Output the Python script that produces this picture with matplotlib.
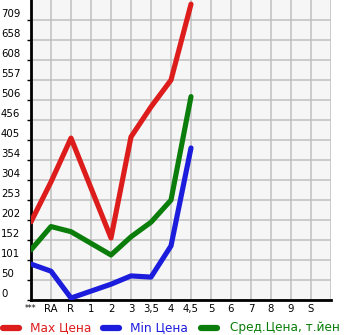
import matplotlib.pyplot as plt
from matplotlib.lines import Line2D
from matplotlib.transforms import blended_transform_factory

# категории по оси X
categories = ["***", "RA", "R", "1", "2", "3", "3,5", "4", "4,5", "5", "6", "7", "8", "9", "S"]
# точки с данными (у "1" данных нет)
data_cats = ["***", "RA", "R", "2", "3", "3,5", "4", "4,5"]
max_price = [198, 299, 410, 157, 413, 489, 557, 749]
min_price = [91, 73, 5, 40, 61, 58, 137, 385]
avg_price = [127, 186, 173, 114, 160, 197, 253, 515]
y_ticks = [0, 50, 101, 152, 202, 253, 304, 354, 405, 456, 506, 557, 608, 658, 709]

red = "#dd1c1c"
blue = "#1c1cdd"
green = "#0a7d0a"

W, H = 345, 335
fig = plt.figure(figsize=(W / 100, H / 100), dpi=100)
ax = fig.add_axes([31 / W, 1 - 300 / H, 300 / W, 300 / H])
ax.set_facecolor("#f6f6f6")

x = [categories.index(c) for c in data_cats]
for vals, col in [(max_price, red), (min_price, blue), (avg_price, green)]:
    ax.plot(x, vals, color=col, lw=3.7, solid_capstyle="round", solid_joinstyle="round", zorder=3)

step = 709 / 14
ax.set_xlim(0, 15)
ax.set_ylim(0, step * 15)
ax.set_xticks(range(16))
ax.set_yticks(y_ticks)
ax.grid(True, color="#c0c0c0", lw=1.1)
ax.set_axisbelow(True)
ax.set_xticklabels([])
ax.set_yticklabels([])
ax.tick_params(axis="x", length=0)
ax.tick_params(axis="y", length=3, width=1, color="black")
for s in ["top", "right"]:
    ax.spines[s].set_visible(False)
for s in ["left", "bottom"]:
    ax.spines[s].set_linewidth(2)

# подписи оси Y слева, над линиями сетки
ytrans = blended_transform_factory(fig.transFigure, ax.transData)
for v in y_ticks:
    ax.text(1 / W, v + 2, str(v), transform=ytrans, ha="left", va="bottom", fontsize=7.3, color="black")

# подписи оси X
for i, c in enumerate(categories):
    ax.text(i, -9, c, ha="center", va="top", fontsize=7.3 if c != "***" else 5.5, color="black")

# легенда внизу
legend = [("Max Цена", red, 0, 30), ("Min Цена", blue, 100, 130), ("Сред.Цена, т.йен", green, 198, 230)]
ly = 1 - 328 / H
for label, col, x0, tx in legend:
    fig.add_artist(Line2D([(x0 + 3) / W, (x0 + 19) / W], [ly, ly], transform=fig.transFigure,
                          color=col, lw=4.5, solid_capstyle="round"))
    fig.text(tx / W, ly, label, color=col, fontsize=8.7, ha="left", va="center")

fig.savefig("out.png", dpi=100)
